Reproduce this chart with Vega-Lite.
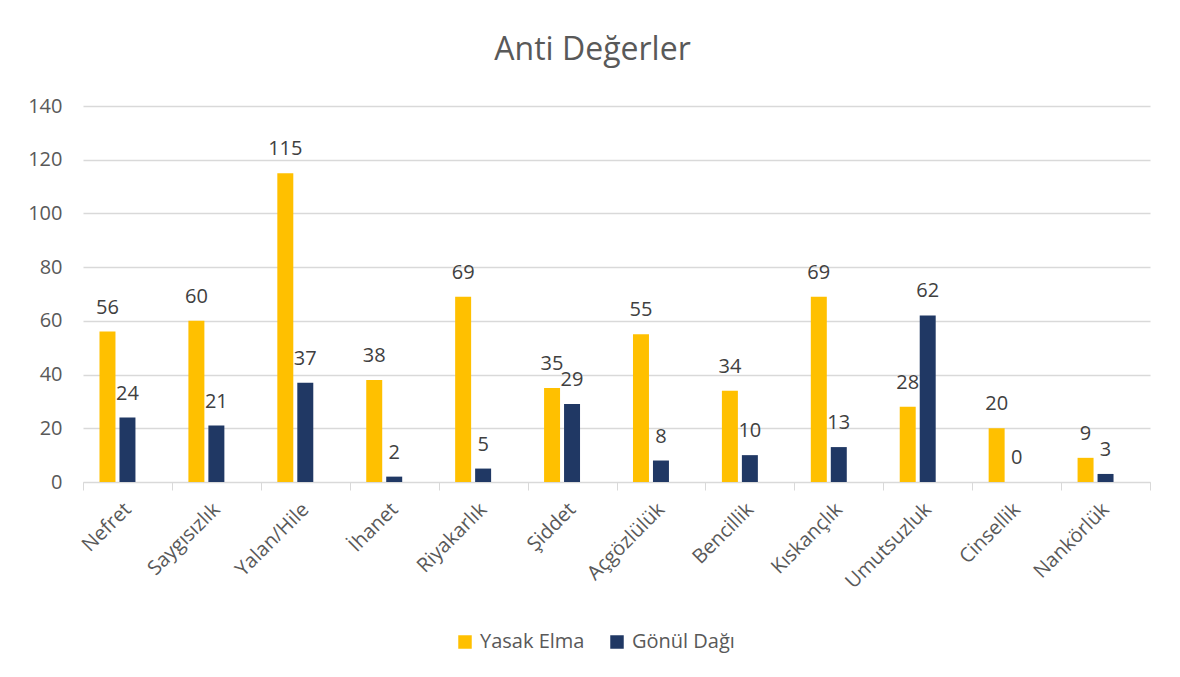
{
  "$schema": "https://vega.github.io/schema/vega-lite/v6.json",
  "width": 1067,
  "height": 376,
  "autosize": {"type": "none"},
  "padding": {"left": 83, "top": 106, "right": 30, "bottom": 195},
  "background": "white",
  "title": {
    "text": "Anti Değerler",
    "anchor": "middle",
    "dx": -24,
    "fontSize": 32,
    "font": "Open Sans",
    "fontWeight": "normal",
    "color": "#595959",
    "offset": 29
  },
  "data": {
    "values": [
      {"kategori": "Nefret", "seri": "Yasak Elma", "deger": 56},
      {"kategori": "Nefret", "seri": "Gönül Dağı", "deger": 24},
      {"kategori": "Saygısızlık", "seri": "Yasak Elma", "deger": 60},
      {"kategori": "Saygısızlık", "seri": "Gönül Dağı", "deger": 21},
      {"kategori": "Yalan/Hile", "seri": "Yasak Elma", "deger": 115},
      {"kategori": "Yalan/Hile", "seri": "Gönül Dağı", "deger": 37},
      {"kategori": "İhanet", "seri": "Yasak Elma", "deger": 38},
      {"kategori": "İhanet", "seri": "Gönül Dağı", "deger": 2},
      {"kategori": "Riyakarlık", "seri": "Yasak Elma", "deger": 69},
      {"kategori": "Riyakarlık", "seri": "Gönül Dağı", "deger": 5},
      {"kategori": "Şiddet", "seri": "Yasak Elma", "deger": 35},
      {"kategori": "Şiddet", "seri": "Gönül Dağı", "deger": 29},
      {"kategori": "Açgözlülük", "seri": "Yasak Elma", "deger": 55},
      {"kategori": "Açgözlülük", "seri": "Gönül Dağı", "deger": 8},
      {"kategori": "Bencillik", "seri": "Yasak Elma", "deger": 34},
      {"kategori": "Bencillik", "seri": "Gönül Dağı", "deger": 10},
      {"kategori": "Kıskançlık", "seri": "Yasak Elma", "deger": 69},
      {"kategori": "Kıskançlık", "seri": "Gönül Dağı", "deger": 13},
      {"kategori": "Umutsuzluk", "seri": "Yasak Elma", "deger": 28},
      {"kategori": "Umutsuzluk", "seri": "Gönül Dağı", "deger": 62},
      {"kategori": "Cinsellik", "seri": "Yasak Elma", "deger": 20},
      {"kategori": "Cinsellik", "seri": "Gönül Dağı", "deger": 0},
      {"kategori": "Nankörlük", "seri": "Yasak Elma", "deger": 9},
      {"kategori": "Nankörlük", "seri": "Gönül Dağı", "deger": 3}
    ]
  },
  "encoding": {
    "x": {
      "field": "kategori",
      "type": "nominal",
      "sort": null,
      "scale": {"paddingInner": 0, "paddingOuter": 0},
      "axis": {
        "title": null,
        "labelAngle": -45,
        "labelAlign": "right",
        "labelBaseline": "middle",
        "labelPadding": 16,
        "labelFontSize": 20,
        "labelFont": "Open Sans",
        "labelColor": "#595959",
        "tickBand": "extent",
        "tickColor": "#d9d9d9",
        "tickSize": 8,
        "domainColor": "#d9d9d9",
        "domainWidth": 1,
        "grid": false
      }
    },
    "xOffset": {
      "field": "seri",
      "type": "nominal",
      "scale": {"domain": ["Yasak Elma", "Gönül Dağı", "_"], "paddingInner": 0.2, "paddingOuter": 0.825}
    },
    "y": {
      "field": "deger",
      "type": "quantitative",
      "scale": {"domain": [0, 140]},
      "axis": {
        "title": null,
        "values": [0, 20, 40, 60, 80, 100, 120, 140],
        "domain": false,
        "ticks": false,
        "labelPadding": 21,
        "labelFontSize": 20,
        "labelFont": "Open Sans",
        "labelColor": "#595959",
        "gridColor": "#d9d9d9",
        "gridWidth": 1.3
      }
    }
  },
  "layer": [
    {
      "mark": {"type": "bar"},
      "encoding": {
        "color": {
          "field": "seri",
          "type": "nominal",
          "scale": {"domain": ["Yasak Elma", "Gönül Dağı"], "range": ["#FFC000", "#203864"]},
          "legend": {
            "title": null,
            "orient": "none",
            "direction": "horizontal",
            "legendX": 372,
            "legendY": 526,
            "symbolType": "square",
            "symbolSize": 182,
            "symbolStrokeWidth": 0,
            "labelFontSize": 20,
            "labelFont": "Open Sans",
            "labelColor": "#595959",
            "labelOffset": 5,
            "columnPadding": 22
          }
        }
      }
    },
    {
      "mark": {"type": "text", "baseline": "alphabetic", "dy": -18, "fontSize": 20, "font": "Open Sans", "color": "#404040"},
      "encoding": {
        "text": {"field": "deger", "type": "quantitative"}
      }
    }
  ],
  "config": {
    "view": {"stroke": null}
  }
}
